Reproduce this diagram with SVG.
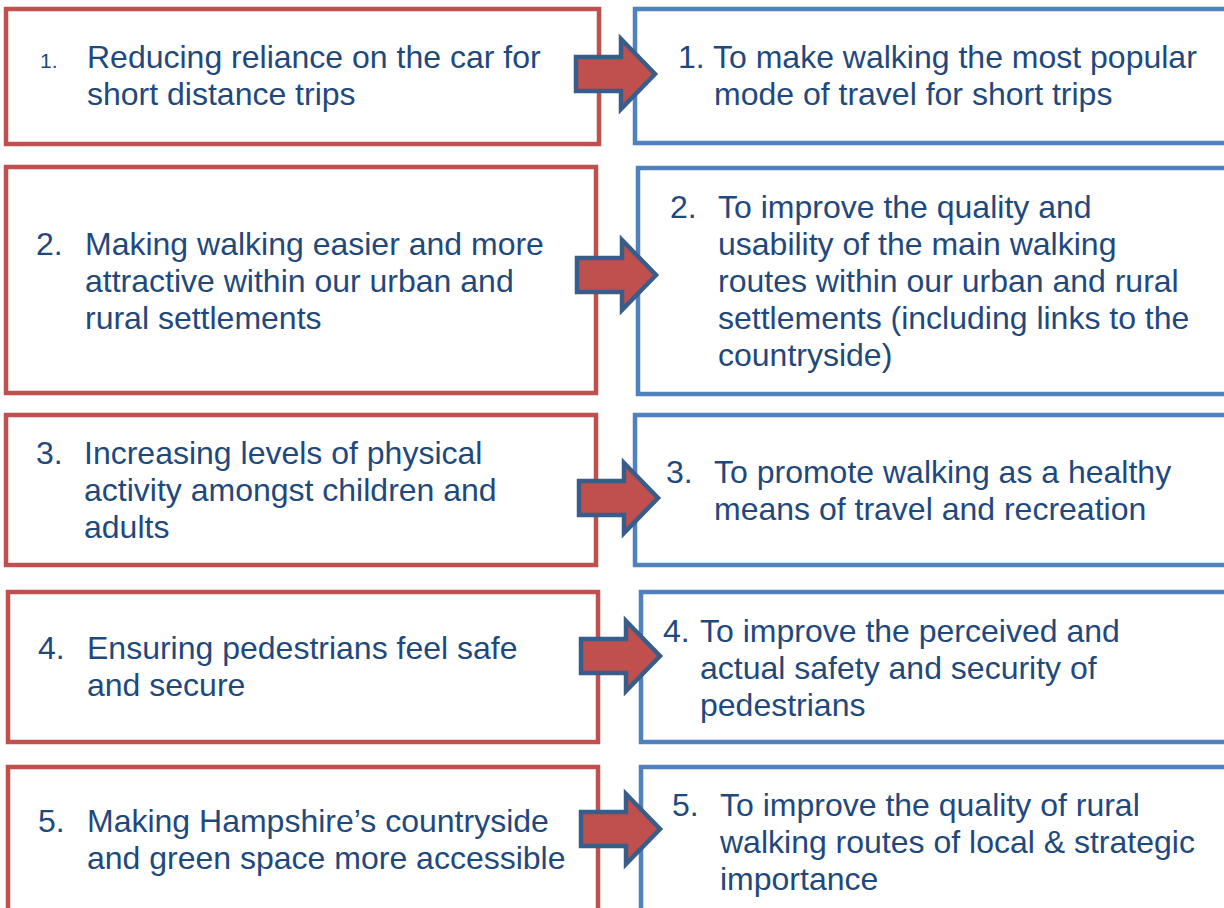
<svg xmlns="http://www.w3.org/2000/svg" width="1224" height="908" viewBox="0 0 1224 908">
<style>
.red{fill:#FFFFFF;stroke:#C0504D;stroke-width:4.5}
.blue{fill:#FFFFFF;stroke:#4F81BD;stroke-width:4.5}
.t{font-family:"Liberation Sans",Arial,sans-serif;font-size:32px;fill:#1F497D}
.s{font-family:"Liberation Sans",Arial,sans-serif;font-size:21px;fill:#1F497D}
.arr{fill:#C0504D;stroke:#385D8A;stroke-width:4.5;stroke-linejoin:miter}
</style>
<defs>
<path id="arrow" class="arr" d="M0,-17 L45,-17 L45,-35 L79,0 L45,35 L45,17 L0,17 Z"/>
</defs>
<rect width="1224" height="908" fill="#FFFFFF"/>

<g id="left1"><rect class="red" x="6" y="9" width="593" height="135"/>
<text class="s" x="40" y="68">1.</text>
<text class="t" x="87" y="68">Reducing reliance on the car for</text>
<text class="t" x="87" y="105">short distance trips</text></g>

<g id="right1"><rect class="blue" x="635" y="9" width="600" height="134"/>
<text class="t" x="678" y="68">1. To make walking the most popular</text>
<text class="t" x="714" y="105">mode of travel for short trips</text></g>

<g id="left2"><rect class="red" x="6" y="167" width="590" height="226"/>
<text class="t" x="36" y="255">2.</text>
<text class="t" x="85" y="255">Making walking easier and more</text>
<text class="t" x="85" y="292">attractive within our urban and</text>
<text class="t" x="85" y="329">rural settlements</text></g>

<g id="right2"><rect class="blue" x="638" y="168" width="600" height="226"/>
<text class="t" x="670" y="218">2.</text>
<text class="t" x="718" y="218">To improve the quality and</text>
<text class="t" x="718" y="255">usability of the main walking</text>
<text class="t" x="718" y="292">routes within our urban and rural</text>
<text class="t" x="718" y="329">settlements (including links to the</text>
<text class="t" x="718" y="366">countryside)</text></g>

<g id="left3"><rect class="red" x="6" y="415" width="590" height="150"/>
<text class="t" x="36" y="464">3.</text>
<text class="t" x="84" y="464">Increasing levels of physical</text>
<text class="t" x="84" y="501">activity amongst children and</text>
<text class="t" x="84" y="538">adults</text></g>

<g id="right3"><rect class="blue" x="635" y="415" width="600" height="150"/>
<text class="t" x="666" y="483">3.</text>
<text class="t" x="714" y="483">To promote walking as a healthy</text>
<text class="t" x="714" y="520">means of travel and recreation</text></g>

<g id="left4"><rect class="red" x="8" y="592" width="590" height="150"/>
<text class="t" x="38" y="659">4.</text>
<text class="t" x="87" y="659">Ensuring pedestrians feel safe</text>
<text class="t" x="87" y="696">and secure</text></g>

<g id="right4"><rect class="blue" x="641" y="592" width="600" height="150"/>
<text class="t" x="663" y="642">4.</text>
<text class="t" x="700" y="642">To improve the perceived and</text>
<text class="t" x="700" y="679">actual safety and security of</text>
<text class="t" x="700" y="716">pedestrians</text></g>

<g id="left5"><rect class="red" x="8" y="767" width="590" height="160"/>
<text class="t" x="38" y="832">5.</text>
<text class="t" x="87" y="832">Making Hampshire’s countryside</text>
<text class="t" x="87" y="869">and green space more accessible</text></g>

<g id="right5"><rect class="blue" x="641" y="767" width="600" height="160"/>
<text class="t" x="672" y="816">5.</text>
<text class="t" x="720" y="816">To improve the quality of rural</text>
<text class="t" x="720" y="853">walking routes of local &amp; strategic</text>
<text class="t" x="720" y="890">importance</text></g>

<g id="connectors">
<use href="#arrow" transform="translate(576,74)"/>
<use href="#arrow" transform="translate(577,275)"/>
<use href="#arrow" transform="translate(579,498)"/>
<use href="#arrow" transform="translate(581,656)"/>
<use href="#arrow" transform="translate(581,829)"/>
</g>
</svg>
